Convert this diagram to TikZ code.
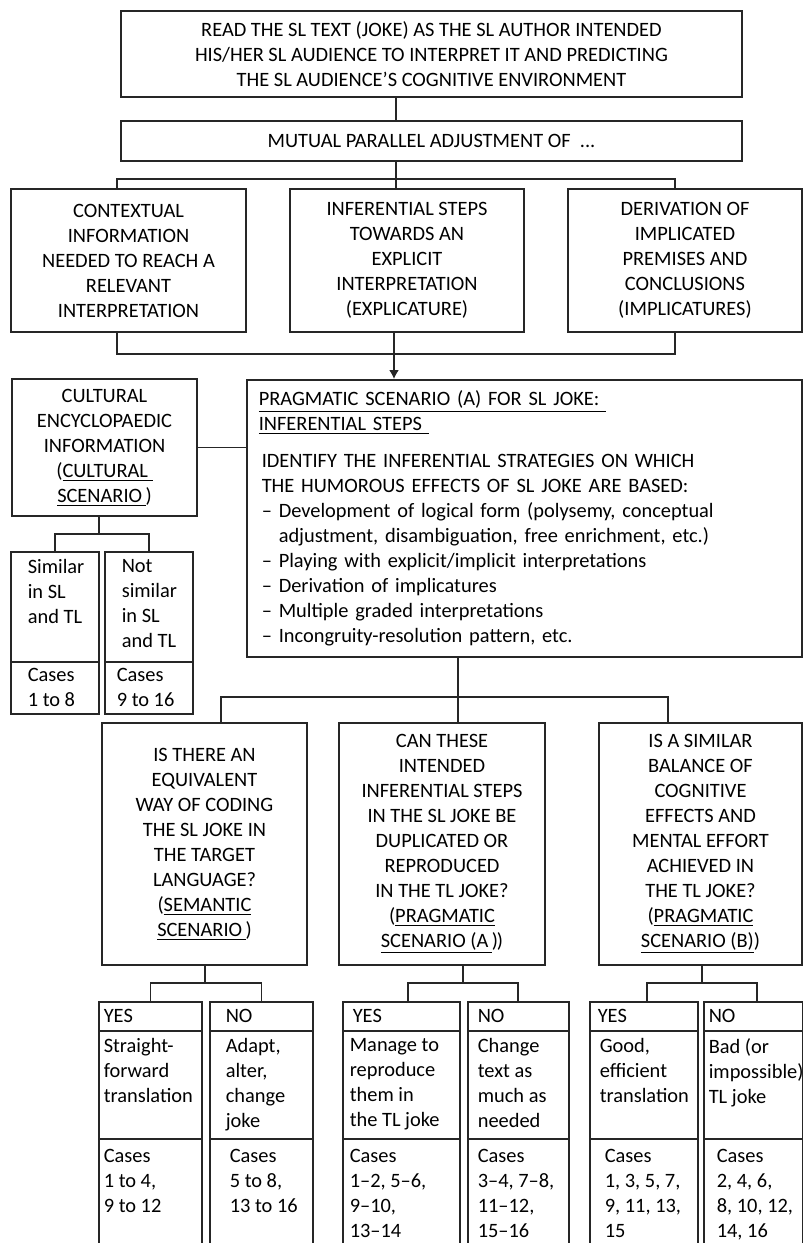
\documentclass[tikz,border=0pt]{standalone}
\usepackage{fontspec}
\setmainfont{Carlito}
\usetikzlibrary{arrows.meta}
\newcommand{\celltext}[5][t]{\parbox[c][#2][#1]{#3}{\raggedright\leftskip=#4\relax #5}}

\begin{document}
\begin{tikzpicture}[x=0.5pt, y=-0.5pt, >={Latex[length=4.5pt,width=5pt]},
  every node/.style={font=\fontsize{10.2}{12.5}\selectfont, text=black},
  box/.style={draw=black!85, line width=0.8pt, inner sep=0pt, align=center},
  cell/.style={draw=black!85, line width=0.8pt, inner sep=0pt, anchor=north west},
  link/.style={draw=black!85, line width=0.8pt}]
  \useasboundingbox (0,0) rectangle (803,1243);
  \clip (0,0) rectangle (803,1243);

  \node[box, minimum width=310.5pt, minimum height=43pt] (read) at (431.5,54) {READ THE SL TEXT (JOKE) AS THE SL AUTHOR INTENDED\\HIS/HER SL AUDIENCE TO INTERPRET IT AND PREDICTING\\THE SL AUDIENCE’S COGNITIVE ENVIRONMENT};
  \node[box, minimum width=310.5pt, minimum height=20pt] (mutual) at (431.5,141) {MUTUAL PARALLEL ADJUSTMENT OF\ \ ...};
  \node[box, minimum width=117.5pt, minimum height=71.5pt] (context) at (128.5,260.5) {CONTEXTUAL\\INFORMATION\\NEEDED TO REACH A\\RELEVANT\\INTERPRETATION};
  \node[box, minimum width=117pt, minimum height=71.5pt] (steps) at (407,260.5) {INFERENTIAL STEPS\\TOWARDS AN\\EXPLICIT\\INTERPRETATION\\(EXPLICATURE)};
  \node[box, minimum width=117pt, minimum height=71.5pt] (derive) at (685,260.5) {DERIVATION OF\\IMPLICATED\\PREMISES AND\\CONCLUSIONS\\(IMPLICATURES)};

  \node[box, minimum width=92.5pt, minimum height=68.5pt] (cultural) at (104.5,447.5) {CULTURAL\\ENCYCLOPAEDIC\\INFORMATION\\(\underline{CULTURAL\ }\\\underline{SCENARIO\,})};
  \node[box, anchor=north west, align=left, text width=265.5pt, inner xsep=6pt, minimum height=138.5pt] (scenA) at (246,379) {\underline{PRAGMATIC SCENARIO (A) FOR SL JOKE:\ }\\\underline{INFERENTIAL STEPS\ }\\[6pt]
    \hspace*{1.5pt}IDENTIFY THE INFERENTIAL STRATEGIES ON WHICH\\\hspace*{1.5pt}THE HUMOROUS EFFECTS OF SL JOKE ARE BASED:\\
    \hspace*{1.5pt}– Development of logical form (polysemy, conceptual\\\hspace*{1.5pt}\hphantom{– }adjustment, disambiguation, free enrichment, etc.)\\
    \hspace*{1.5pt}– Playing with explicit/implicit interpretations\\
    \hspace*{1.5pt}– Derivation of implicatures\\
    \hspace*{1.5pt}– Multiple graded interpretations\\
    \hspace*{1.5pt}– Incongruity-resolution pattern, etc.};

  \node[cell, inner ysep=3.7pt] (similar) at (10,551) {\celltext{47.6pt}{44pt}{8.5pt}{Similar\\in SL\\and TL}};
  \node[cell] (similar-c) at (10,661) {\celltext[c]{26pt}{44pt}{8.5pt}{Cases\\1 to 8}};
  \node[cell, inner ysep=3.7pt] (notsim) at (104,551) {\celltext{47.6pt}{44pt}{8.5pt}{Not\\similar\\in SL\\and TL}};
  \node[cell] (notsim-c) at (104,661) {\celltext[c]{26pt}{44pt}{6pt}{Cases\\9 to 16}};

  \node[box, minimum width=102.5pt, minimum height=121pt] (semantic) at (204.5,844) {IS THERE AN\\EQUIVALENT\\WAY OF CODING\\THE SL JOKE IN\\THE TARGET\\LANGUAGE?\\(\underline{SEMANTIC}\\\underline{SCENARIO\,})};
  \node[box, minimum width=103pt, minimum height=121pt] (pragA) at (442,844) {CAN THESE\\INTENDED\\INFERENTIAL STEPS\\IN THE SL JOKE BE\\DUPLICATED OR\\REPRODUCED\\IN THE TL JOKE?\\(\underline{PRAGMATIC}\\\underline{SCENARIO (A\,})\kern-0.5pt)};
  \node[box, minimum width=101.5pt, minimum height=121pt] (pragB) at (700.5,844) {IS A SIMILAR\\BALANCE OF\\COGNITIVE\\EFFECTS AND\\MENTAL EFFORT\\ACHIEVED IN\\THE TL JOKE?\\(\underline{PRAGMATIC}\\\underline{SCENARIO (B)})};

  \node[cell] (sem-yes) at (98,1001) {\celltext[c]{14.5pt}{51.5pt}{2.5pt}{YES}};
  \node[cell, inner ysep=3.7pt] (sem-yes-b) at (98,1030) {\celltext{46.6pt}{51.5pt}{2.5pt}{Straight-\\forward\\translation}};
  \node[cell, inner ysep=5.2pt] (sem-yes-c) at (98,1138) {\celltext{49.6pt}{51.5pt}{2.5pt}{Cases\\1 to 4,\\9 to 12}};
  \node[cell] (sem-no) at (209,1001) {\celltext[c]{14.5pt}{51.5pt}{8pt}{NO}};
  \node[cell, inner ysep=3.7pt] (sem-no-b) at (209,1030) {\celltext{46.6pt}{51.5pt}{8pt}{Adapt,\\alter,\\change\\joke}};
  \node[cell, inner ysep=5.2pt] (sem-no-c) at (209,1138) {\celltext{49.6pt}{51.5pt}{10pt}{Cases\\5 to 8,\\13 to 16}};

  \node[cell] (prA-yes) at (342,1001) {\celltext[c]{14.5pt}{58.5pt}{5pt}{YES}};
  \node[cell, inner ysep=3.7pt] (prA-yes-b) at (342,1030) {\celltext{46.6pt}{58.5pt}{3.5pt}{Manage to\\reproduce\\them in\\the TL joke}};
  \node[cell, inner ysep=5.2pt] (prA-yes-c) at (342,1138) {\celltext{49.6pt}{58.5pt}{3.5pt}{Cases\\1–2, 5–6,\\9–10,\\13–14}};
  \node[cell] (prA-no) at (467,1001) {\celltext[c]{14.5pt}{50.5pt}{5pt}{NO}};
  \node[cell, inner ysep=3.7pt] (prA-no-b) at (467,1030) {\celltext{46.6pt}{50.5pt}{5pt}{Change\\text as\\much as\\needed}};
  \node[cell, inner ysep=5.2pt] (prA-no-c) at (467,1138) {\celltext{49.6pt}{50.5pt}{5pt}{Cases\\3–4, 7–8,\\11–12,\\15–16}};

  \node[cell] (prB-yes) at (589,1001) {\celltext[c]{14.5pt}{54pt}{4pt}{YES}};
  \node[cell, inner ysep=3.7pt] (prB-yes-b) at (589,1030) {\celltext{46.6pt}{54pt}{5pt}{Good,\\efficient\\translation}};
  \node[cell, inner ysep=5.2pt] (prB-yes-c) at (589,1138) {\celltext{49.6pt}{54pt}{7.5pt}{Cases\\1, 3, 5, 7,\\9, 11, 13,\\15}};
  \node[cell] (prB-no) at (703,1001) {\celltext[c]{14.5pt}{49.5pt}{2.5pt}{NO}};
  \node[cell, inner ysep=3.7pt] (prB-no-b) at (703,1030) {\celltext{46.6pt}{49.5pt}{2.5pt}{Bad (or\\impossible)\\TL joke}};
  \node[cell, inner ysep=5.2pt] (prB-no-c) at (703,1138) {\celltext{49.6pt}{49.5pt}{6.5pt}{Cases\\2, 4, 6,\\8, 10, 12,\\14, 16}};

  \coordinate (j1) at (396,179); \coordinate (j1a) at (117,179); \coordinate (j1b) at (675,179);
  \coordinate (j2) at (394,354); \coordinate (j2a) at (117,354); \coordinate (j2b) at (675,354);
  \coordinate (j3) at (99,534);
  \coordinate (j4) at (458,697); \coordinate (j4a) at (221,697); \coordinate (j4b) at (668,697);
  \coordinate (j5) at (205,983);
  \coordinate (j6) at (463,983); \coordinate (j6a) at (408,983); \coordinate (j6b) at (518,983);
  \coordinate (j7) at (702,983); \coordinate (j7a) at (647,983); \coordinate (j7b) at (757,983);

  \draw[link] (read.south -| j1) -- (mutual.north -| j1);
  \draw[link] (mutual.south -| j1) -- (j1) -- (steps.north -| j1);
  \draw[link] (context.north -| j1a) -- (j1a) -- (j1b) -- (derive.north -| j1b);
  \draw[link] (context.south -| j2a) -- (j2a) -- (j2b) -- (derive.south -| j2b);
  \draw[link] (steps.south -| j2) -- (j2);
  \draw[link, ->] (j2) -- (scenA.north -| j2);
  \draw[link] (cultural.east) -- (scenA.west |- cultural.east);
  \draw[link] (cultural.south -| j3) -- (j3);
  \draw[link] (similar.north) |- (j3) -| (notsim.north);
  \draw[link] (scenA.south -| j4) -- (j4) -- (pragA.north -| j4);
  \draw[link] (semantic.north -| j4a) -- (j4a) -- (j4b) -- (pragB.north -| j4b);
  \draw[link] (semantic.south -| j5) -- (j5);
  \draw[link] (sem-yes.north) |- (j5) -| (sem-no.north);
  \draw[link] (pragA.south -| j6) -- (j6);
  \draw[link] (prA-yes.north -| j6a) -- (j6a) -- (j6b) -- (prA-no.north -| j6b);
  \draw[link] (pragB.south -| j7) -- (j7);
  \draw[link] (prB-yes.north -| j7a) -- (j7a) -- (j7b) -- (prB-no.north -| j7b);
\end{tikzpicture}
\end{document}
